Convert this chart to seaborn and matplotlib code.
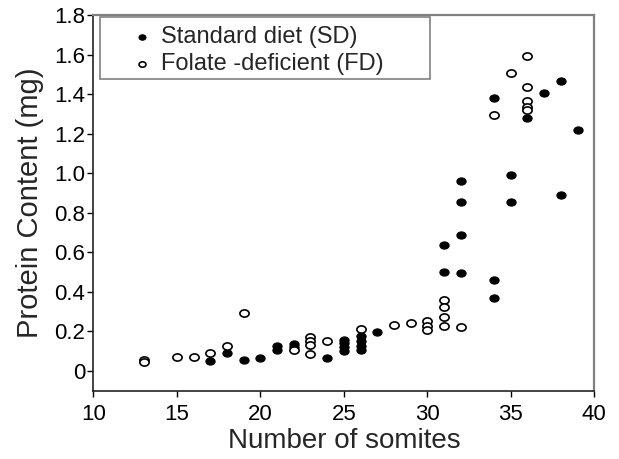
import numpy as np
import pandas as pd
import matplotlib
matplotlib.use("Agg")
import matplotlib.pyplot as plt
from matplotlib.path import Path
from matplotlib.transforms import Affine2D
from matplotlib.patches import Rectangle
import seaborn as sns

# ─── Data ───
sd_x = [17, 18, 19, 20, 21, 21, 22, 22, 24, 25, 25, 25, 25, 26, 26, 26, 26, 27,
        31, 31, 32, 32, 32, 32, 34, 34, 34, 35, 35, 36, 37, 38, 38, 39]
sd_y = [0.05, 0.09, 0.055, 0.066, 0.128, 0.103, 0.135, 0.12, 0.067,
        0.155, 0.14, 0.12, 0.10, 0.178, 0.153, 0.128, 0.103, 0.195,
        0.502, 0.637, 0.495, 0.688, 0.855, 0.962, 0.37, 0.46, 1.383,
        0.855, 0.992, 1.282, 1.405, 1.465, 0.89, 1.218]

fd_x = [13, 13, 15, 16, 17, 18, 19, 22, 23, 23, 23, 23, 24, 26, 28, 29,
        30, 30, 30, 31, 31, 31, 31, 32, 34, 35, 36, 36, 36, 36, 36]
fd_y = [0.057, 0.045, 0.068, 0.071, 0.091, 0.126, 0.293, 0.103,
        0.17, 0.15, 0.13, 0.085, 0.153, 0.212, 0.23, 0.24,
        0.254, 0.229, 0.207, 0.356, 0.325, 0.271, 0.227, 0.22,
        1.294, 1.505, 1.594, 1.434, 1.366, 1.336, 1.32]

x_ticks = [10, 15, 20, 25, 30, 35, 40]
y_ticks = [0, 0.2, 0.4, 0.6, 0.8, 1.0, 1.2, 1.4, 1.6, 1.8]
y_labels = ["0", "0.2", "0.4", "0.6", "0.8", "1.0", "1.2", "1.4", "1.6", "1.8"]

sd_df = pd.DataFrame({"somites": sd_x, "protein": sd_y})
fd_df = pd.DataFrame({"somites": fd_x, "protein": fd_y})

sns.set_style("white")
plt.rcParams["font.family"] = ["Liberation Sans", "DejaVu Sans"]

# slightly wide ellipse, like the stretched markers in the original
oval = Path.unit_circle().transformed(Affine2D().scale(1.0, 0.78))

fig = plt.figure(figsize=(6.19, 4.59), dpi=100)
ax = fig.add_axes([0.151, 0.149, 0.809, 0.818])

sns.scatterplot(data=sd_df, x="somites", y="protein", ax=ax, s=44, marker=oval,
                color="black", edgecolor="black", linewidth=0.8,
                label="Standard diet (SD)")
sns.scatterplot(data=fd_df, x="somites", y="protein", ax=ax, s=44, marker=oval,
                facecolor="white", edgecolor="black", linewidth=1.2,
                label="Folate -deficient (FD)")

ax.set_xlim(10, 40)
ax.set_ylim(-0.1, 1.8)
ax.set_xticks(x_ticks)
ax.set_yticks(y_ticks)
ax.set_yticklabels(y_labels)
ax.tick_params(axis="both", direction="out", length=4, width=1,
               labelsize=16, colors="black", bottom=True, left=True)
ax.tick_params(axis="x", pad=6)
ax.tick_params(axis="y", pad=2)

for side in ["left", "bottom"]:
    ax.spines[side].set_color("#222222")
    ax.spines[side].set_linewidth(1.2)
for side in ["top", "right"]:
    ax.spines[side].set_color("#808080")
    ax.spines[side].set_linewidth(1.6)

ax.set_xlabel("Number of somites", fontsize=20, labelpad=2)
ax.set_ylabel("Protein Content (mg)", fontsize=21, labelpad=7)

leg = ax.legend(loc="upper left", bbox_to_anchor=(130 / 619, 1 - 26 / 459),
                bbox_transform=fig.transFigure, frameon=False, fontsize=17,
                markerscale=0.75, handletextpad=0.3, borderpad=0,
                labelspacing=0.2, borderaxespad=0, handlelength=1.0)

# legend box drawn separately, it is much wider than its text
fig.patches.append(Rectangle((100 / 619, 1 - 79 / 459), 330 / 619, 62 / 459,
                             transform=fig.transFigure, facecolor="none",
                             edgecolor="#808080", linewidth=1.2, zorder=5))

plt.savefig("out.png", dpi=100)
plt.close()
